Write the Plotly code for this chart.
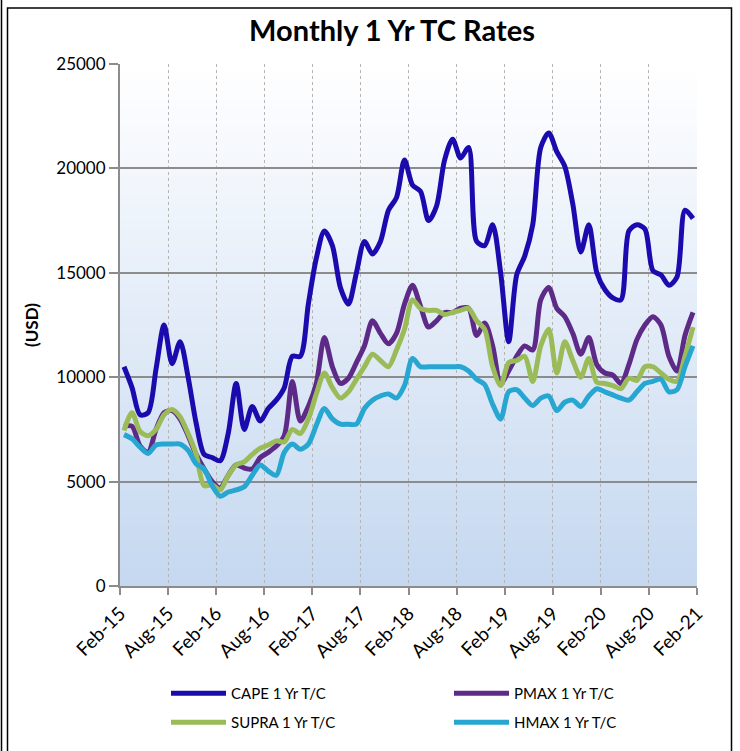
import plotly.graph_objects as go
import pandas as pd
import numpy as np

# ---------------- data ----------------
months = [d.strftime("%b-%y") for d in pd.date_range("2015-02-01", periods=72, freq="MS")]
tick_labels = ["Feb-15", "Aug-15", "Feb-16", "Aug-16", "Feb-17", "Aug-17", "Feb-18",
               "Aug-18", "Feb-19", "Aug-19", "Feb-20", "Aug-20", "Feb-21"]

cape = [10500, 9500, 8200, 8300, 10400, 12500, 10650, 11700, 10000, 7800, 6300, 6150,
        6000, 7300, 9700, 7500, 8600, 7900, 8500, 8900, 9500, 11000, 11000, 13500,
        15700, 17000, 16300, 14300, 13500, 15000, 16500, 15900, 16500, 18000, 18600, 20400,
        19200, 18900, 17500, 18200, 20400, 21400, 20500, 21000, 16500, 16300, 17300, 15000,
        11700, 14900, 15800, 17300, 21000, 21700, 20800, 20100, 18300, 16000, 17300, 15000,
        14200, 13800, 13700, 17000, 17300, 17100, 15100, 14900, 14400, 14800, 18000, 17600]

pmax = [7650, 7650, 6700, 6400, 7500, 8300, 8400, 8000, 7200, 6300, 5600, 5000,
        4700, 5300, 5800, 5650, 5600, 6150, 6400, 6700, 7200, 9800, 7900, 8600,
        9700, 11900, 10500, 9700, 9950, 10700, 11500, 12700, 12100, 11600, 12100, 13500,
        14400, 13400, 12400, 12700, 13100, 13100, 13300, 13300, 12000, 12600, 11500, 9700,
        10300, 11000, 11500, 11300, 13700, 14300, 13300, 12900, 12100, 11100, 11900, 10600,
        10200, 10100, 9700, 10600, 11800, 12500, 12900, 12500, 11000, 10300, 12000, 13100]

supra = [7450, 8300, 7400, 7200, 7500, 8200, 8450, 8100, 7300, 6300, 4800, 4850,
         4600, 5300, 5800, 5950, 6300, 6600, 6750, 6950, 6900, 7500, 7300, 8000,
         9200, 10200, 9500, 9000, 9300, 9900, 10500, 11100, 10800, 10500, 11300, 12300,
         13700, 13300, 13200, 13200, 13000, 13100, 13200, 13300, 12700, 12300, 10500, 9600,
         10700, 10800, 11000, 9800, 11500, 12300, 10200, 11700, 10800, 10000, 10900, 9750,
         9700, 9600, 9450, 9950, 9850, 10500, 10500, 10200, 9900, 9800, 11000, 12400]

hmax = [7250, 7050, 6650, 6350, 6750, 6800, 6800, 6800, 6500, 5850, 5600, 4800,
        4300, 4500, 4600, 4750, 5300, 5800, 5500, 5300, 6400, 6800, 6550, 6800,
        7700, 8500, 8000, 7750, 7750, 7750, 8500, 8900, 9100, 9200, 9000, 9600,
        10900, 10500, 10500, 10500, 10500, 10500, 10500, 10300, 9900, 9650, 8700, 8000,
        9300, 9400, 9000, 8650, 9000, 9100, 8400, 8800, 8900, 8600, 9100, 9450,
        9300, 9150, 9000, 8900, 9300, 9700, 9800, 9900, 9300, 9400, 10500, 11500]

series = [
    ("CAPE 1 Yr T/C", cape, "#1B0BAE", "legend"),
    ("PMAX 1 Yr T/C", pmax, "#5E2A87", "legend"),
    ("SUPRA 1 Yr T/C", supra, "#9BBB59", "legend2"),
    ("HMAX 1 Yr T/C", hmax, "#26A6D1", "legend2"),
]

FONT = "Lato"

# ---------------- figure ----------------
fig = go.Figure()
xpos = np.arange(len(months)) + 0.5
for name, vals, col, lg in series:
    fig.add_trace(go.Scatter(
        x=xpos, y=vals, name=name, mode="lines", legend=lg,
        line=dict(color=col, width=5, shape="spline", smoothing=0.8),
        customdata=months, hovertemplate="%{customdata}: %{y}<extra>" + name + "</extra>",
    ))

# plot-area vertical gradient (white top -> light blue bottom)
shapes = []
N = 60
top = np.array([255, 255, 255])
bot = np.array([197, 216, 240])
for i in range(N):
    f = (i + 0.5) / N
    c = bot + (top - bot) * f
    shapes.append(dict(type="rect", xref="paper", yref="paper",
                       x0=0, x1=1, y0=i / N, y1=(i + 1) / N + 0.002,
                       fillcolor="rgb(%d,%d,%d)" % tuple(c.round().astype(int)),
                       line=dict(width=0), layer="below"))

# outer frame (pixel -> paper conversions)
L, R, T, B = 120, 697, 64, 586
W, H = R - L, B - T
def px(p): return (p - L) / W
def py(p): return (B - p) / H
shapes.append(dict(type="rect", xref="paper", yref="paper",
                   x0=px(7.5), x1=px(731.5), y0=py(8), y1=py(770),
                   line=dict(color="black", width=1.5), fillcolor="rgba(0,0,0,0)", layer="above"))
shapes.append(dict(type="line", xref="paper", yref="paper",
                   x0=px(1.5), x1=px(1.5), y0=py(0), y1=py(770),
                   line=dict(color="black", width=1.5), layer="above"))

tickvals = list(range(0, 73, 6))

legend_common = dict(orientation="h", xanchor="left", yanchor="top",
                     entrywidth=213, entrywidthmode="pixels", itemwidth=55,
                     font=dict(size=15, family=FONT), bgcolor="rgba(0,0,0,0)")

fig.update_layout(
    width=740, height=751,
    margin=dict(l=L, r=740 - R, t=T, b=751 - B, autoexpand=False),
    paper_bgcolor="white", plot_bgcolor="white",
    font=dict(family=FONT, color="black"),
    title=dict(text="<b>Monthly 1 Yr TC Rates</b>", x=392 / 740, xanchor="center",
               y=1 - 31 / 751, yanchor="middle", font=dict(size=29, family=FONT, color="black")),
    showlegend=True,
    legend=dict(x=px(166), y=py(677), **legend_common),
    legend2=dict(x=px(166), y=py(706), **legend_common),
    shapes=shapes,
    xaxis=dict(range=[0, 72], tickmode="array", tickvals=tickvals, ticktext=tick_labels,
               tickangle=-45, tickfont=dict(size=19, family=FONT), automargin=False,
               showgrid=True, gridcolor="#B5B5B5", griddash="3px,3px", gridwidth=1,
               showline=True, linecolor="#8C8C8C", linewidth=2,
               ticks="outside", ticklen=7, tickcolor="#8C8C8C", tickwidth=1.5,
               zeroline=False, fixedrange=True),
    yaxis=dict(range=[0, 25000], tickmode="linear", tick0=0, dtick=5000, tickformat="d",
               tickfont=dict(size=17, family=FONT), automargin=False,
               title=dict(text="<b>(USD)</b>", font=dict(size=17, family=FONT), standoff=13),
               showgrid=True, gridcolor="#8C8C8C", gridwidth=2,
               showline=True, linecolor="#8C8C8C", linewidth=2,
               ticks="outside", ticklen=9, tickcolor="#8C8C8C", tickwidth=2,
               zeroline=False, fixedrange=True),
)

fig.write_html("out.html", config={"displayModeBar": False},
               post_script="document.body.style.margin='0';")
